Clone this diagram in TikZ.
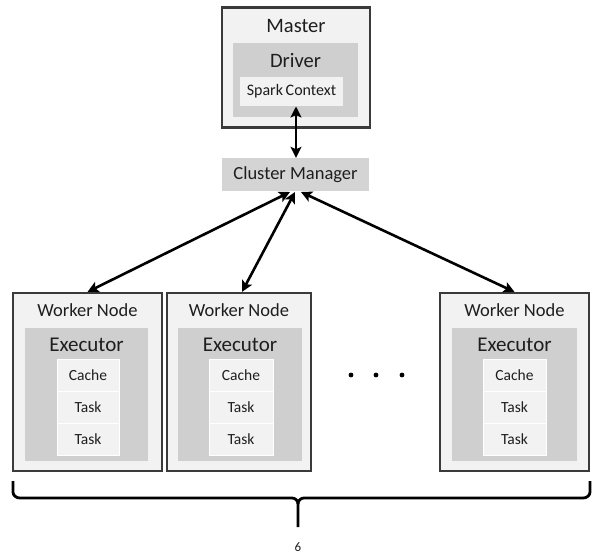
\documentclass[tikz,border=0pt]{standalone}
\usepackage{fontspec}
\setmainfont{Carlito}
\usetikzlibrary{arrows.meta,calc}
\definecolor{lightf}{HTML}{F2F2F2}
\definecolor{midf}{HTML}{CFCFCF}
\definecolor{cmf}{HTML}{D4D4D4}
\definecolor{edge}{HTML}{3A3A3A}
\definecolor{txt}{HTML}{1E1E1E}
\begin{document}
\begin{tikzpicture}[x=1pt,y=-1pt,
  outer/.style={draw=edge,line width=2.2pt,fill=lightf,inner sep=0pt},
  inner/.style={fill=midf,inner sep=0pt},
  cell/.style={fill=lightf,draw=white,line width=1pt,inner sep=0pt,font=\fontsize{15.5}{15.5}\selectfont,text=txt},
  lbl/.style={inner sep=0pt,text=txt},
  conn/.style={line width=2.6pt,{Stealth[length=11pt,width=11pt,inset=2.5pt]}-{Stealth[length=11pt,width=11pt,inset=2.5pt]}},
  bracep/.style={line width=2.8pt,line join=round}]
\fill[white] (0,0) rectangle (593,559);
\useasboundingbox (0,0) rectangle (593,559);
% Master
\node[outer,minimum width=148pt,minimum height=120pt] (master) at (296,67.5) {};
\node[lbl,font=\fontsize{20.5}{20.5}\selectfont] (mastert) at (296,26) {Master};
\node[inner,minimum width=125pt,minimum height=74pt] (driver) at (295.5,80) {};
\node[lbl,font=\fontsize{20.5}{20.5}\selectfont] (drivert) at (295.5,61) {Driver};
\node[fill=lightf,inner sep=0pt,minimum width=103pt,minimum height=29pt,font=\fontsize{16}{16}\selectfont,text=txt] (spark) at (291.5,91.5) {Spark\,Context};
% Cluster manager
\node[fill=cmf,inner sep=0pt,minimum width=147pt,minimum height=33pt,font=\fontsize{18.5}{18.5}\selectfont,text=txt] (cm) at (295.5,174.5) {Cluster Manager};
\draw[conn] (296,106.5) coordinate (sp) -- (cm.north -| sp);
% Workers
\foreach \n/\xl/\xr/\exl/\exr/\cxl/\cxr in {1/13/162/25/148/57/119, 2/167/311/178/302/209/273, 3/440/589/452/577/483/546}{
  \node[outer,minimum width={\xr-\xl},minimum height=178pt] (w\n) at ({(\xl+\xr)/2},382) {};
  \node[lbl,font=\fontsize{18.5}{18.5}\selectfont] (w\n t) at ({(\xl+\xr)/2},310) {Worker Node};
  \node[inner,minimum width={\exr-\exl},minimum height=133pt] (e\n) at ({(\exl+\exr)/2},394.5) {};
  \node[lbl,font=\fontsize{21}{21}\selectfont] (e\n t) at ({(\exl+\exr)/2},345) {Executor};
  \node[cell,minimum width={\cxr-\cxl},minimum height=32pt] (c\n) at ({(\cxl+\cxr)/2},375) {Cache};
  \node[cell,minimum width={\cxr-\cxl},minimum height=32pt] (ta\n) at ({(\cxl+\cxr)/2},407.5) {Task};
  \node[cell,minimum width={\cxr-\cxl},minimum height=32pt] (tb\n) at ({(\cxl+\cxr)/2},439.5) {Task};
}
% connectors
\coordinate (cmA) at (290,192);
\coordinate (cmB) at (295,192);
\coordinate (cmC) at (301,192);
\draw[conn] (cmA) -- (w1.north);
\draw[conn] (cmB) -- ($(w2.north)+(3,0)$) coordinate (w2top);
\draw[conn] (cmC) -- (w3.north);
% dots
\fill[black] (351,375) circle (2.4pt) coordinate (d1);
\fill[black] (376,375) circle (2.4pt) coordinate (d2);
\fill[black] (402,375) circle (2.4pt) coordinate (d3);
% brace
\coordinate (bl) at (13,481);
\coordinate (br) at (590,481);
\coordinate (bm) at (298,527);
\draw[bracep] (bl) -- (13,492) to[out=-90,in=180] (20,498) -- (292,498) to[out=0,in=90] (298,504) -- (bm);
\draw[bracep] (br) -- (590,492) to[out=-90,in=0] (583,498) -- (304,498) to[out=180,in=90] (298,504);
\node[lbl,font=\fontsize{13}{13}\selectfont] (six) at (298,547) {6};
\end{tikzpicture}
\end{document}
